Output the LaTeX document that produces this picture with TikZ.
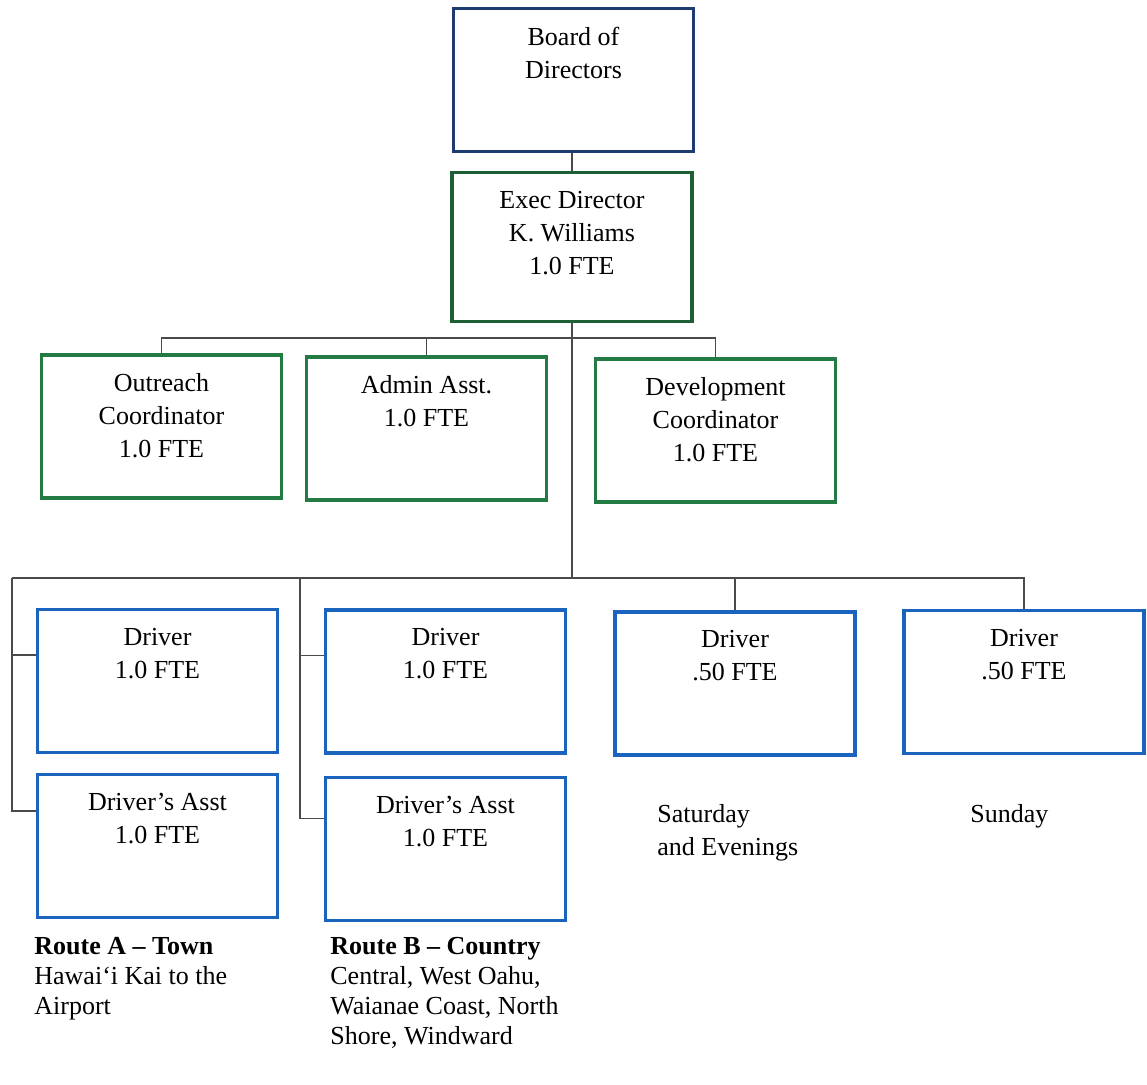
\documentclass[tikz,border=0pt]{standalone}
\usepackage{fontspec}
\setmainfont{Liberation Serif}
\usetikzlibrary{positioning}
\definecolor{boardcolor}{HTML}{1F3C6E}
\definecolor{execcolor}{HTML}{1F5F36}
\definecolor{staffcolor}{HTML}{237A42}
\definecolor{drivercolor}{HTML}{1B64BE}
\definecolor{linkcolor}{HTML}{4A4A4A}

\begin{document}
\begin{tikzpicture}[x=0.5pt, y=-0.5pt,
    every node/.style={font=\fontsize{13}{16.5}\selectfont},
    unit/.style={draw=#1, line width=1.7pt, fill=white, minimum width=120pt, minimum height=71.5pt, inner sep=0pt},
    title/.style={align=center, inner sep=0pt},
    note/.style={align=left, anchor=north west, inner sep=0pt, font=\fontsize{13}{15}\selectfont},
    link/.style={draw=linkcolor, line width=0.75pt}]
    % Page
    \useasboundingbox[fill=white] (0,0) rectangle (1147,1084);

    % Board and director
    \node[unit=boardcolor] (board) at (573.5,80) {};
    \node[title, below=10pt of board.north] (boardtxt) {Board of\\Directors};
    \node[unit=execcolor, minimum height=74.5pt] (exec) at (572,247) {};
    \node[title, below=10pt of exec.north] (exectxt) {Exec Director\\K. Williams\\1.0 FTE};

    % Office staff
    \node[unit=staffcolor] (outreach) at (161.5,426.5) {};
    \node[title, below=10pt of outreach.north] (outreachtxt) {Outreach\\Coordinator\\1.0 FTE};
    \node[unit=staffcolor] (admin) at (426.5,428.5) {};
    \node[title, below=10pt of admin.north] (admintxt) {Admin Asst.\\1.0 FTE};
    \node[unit=staffcolor] (devel) at (715.5,430.5) {};
    \node[title, below=10pt of devel.north] (develtxt) {Development\\Coordinator\\1.0 FTE};

    % Drivers
    \foreach \name/\cx/\cy/\fte in {drvA/157.5/681/1.0, drvB/445.5/681.5/1.0, sat/735/683.5/.50, sun/1024/682/.50} {
        \node[unit=drivercolor] (\name) at (\cx,\cy) {};
        \node[title, below=10pt of \name.north] (\name txt) {Driver\\\fte{} FTE};
    }

    % Driver's assistants
    \foreach \name/\cx/\cy in {asstA/157.5/846, asstB/445.5/849} {
        \node[unit=drivercolor] (\name) at (\cx,\cy) {};
        \node[title, below=10pt of \name.north] (\name txt) {Driver’s Asst\\1.0 FTE};
    }

    % Connectors
    \coordinate (bus2) at (570,338);
    \coordinate (bus3) at (570,578);
    \coordinate (routeA) at (12,578);
    \coordinate (routeB) at (300,578);
    \draw[link] (exec.north) -- (exec.north |- board.south);
    \draw[link] (exec.south) -- (exec.south |- bus3);
    \draw[link] (outreach.north) -- (outreach.north |- bus2) -- (devel.north |- bus2) -- (devel.north);
    \draw[link] (admin.north) -- (admin.north |- bus2);
    \draw[link] (routeA) -- (sun.north |- bus3) -- (sun.north);
    \draw[link] (sat.north) -- (sat.north |- bus3);
    \draw[link] (routeA) |- (drvA.168);
    \draw[link] (routeA) |- (asstA.164);
    \draw[link] (routeB) |- (drvB.168);
    \draw[link] (routeB) |- (asstB.166);

    % Notes
    \node[note, font=\fontsize{13}{16.5}\selectfont] (saturday) at (657,804) {Saturday\\and Evenings};
    \node[note] (sunday) at (970,804) {Sunday};
    \node[note] (routeAtxt) at (34,937) {\textbf{Route A – Town}\\Hawai‘i Kai to the\\Airport};
    \node[note] (routeBtxt) at (330,937) {\textbf{Route B – Country}\\Central, West Oahu,\\Waianae Coast, North\\Shore, Windward};
\end{tikzpicture}
\end{document}
